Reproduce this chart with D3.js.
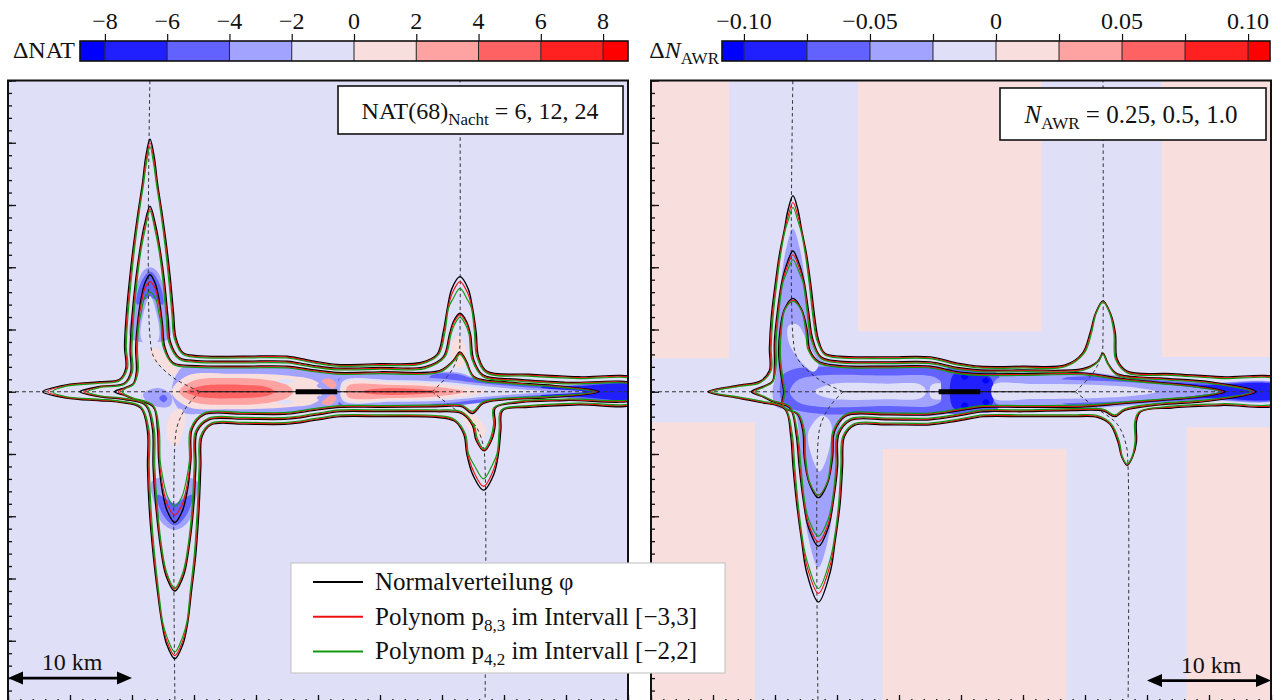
<!DOCTYPE html>
<html>
<head>
<meta charset="utf-8">
<script src="https://cdn.jsdelivr.net/npm/d3@7"></script>
<style>
  body { margin: 0; background: #fff; }
  svg { display: block; }
  text { font-family: "Liberation Serif", "DejaVu Serif", serif; fill: #111; }
</style>
</head>
<body>
<svg id="chart" width="1274" height="700"></svg>
<script>
// ---------------- data ----------------
// colour bins shared by both difference maps (dark blue ... dark red)
const binColors = ["#0000ff", "#2020ff", "#6262ff", "#a2a2ff", "#dfdff7", "#f9dede", "#ffa2a2", "#ff6262", "#ff2020", "#ff0000"];

// colourbar bin edges and tick labels
const natBounds = [-8.8, -8, -6, -4, -2, 0, 2, 4, 6, 8, 8.8];
const natTicks = [-8, -6, -4, -2, 0, 2, 4, 6, 8];
const awrBounds = [-0.1087, -0.1, -0.075, -0.05, -0.025, 0, 0.025, 0.05, 0.075, 0.1, 0.1087];
const awrTicks = [-0.10, -0.05, 0, 0.05, 0.10];

// flight routes and runway, km relative to the runway centre
const routeNorth = [[-13.55, 25.5], [-13.55, 4.4], [-13.2, 2.7], [-11.7, 1.15], [-9.5, 0]];
const routeSouth = [[-9.5, 0], [-10.6, -1.2], [-11.3, -2.6], [-11.53, -4.0], [-11.53, -25.5]];
const routeNE = [[9.2, 0], [10.4, 1.2], [10.95, 2.0], [11.4, 3.3], [11.45, 4.5], [11.45, 25.5]];
const routeSE = [[9.2, 0], [10.9, -1.3], [12.6, -2.6], [13.3, -4.2], [13.47, -6], [13.47, -25.5]];
const runwayEnds = [-1.8, 1.55];
const runwayTrack = [-9.5, 9.2];

// contour points [x, y] in km; an entry [black, red, green] gives the three methods separately
// NAT(68) night: 6 (outer), 12, 24 (inner)
const natOuter = [
  [[-22.2, -21.8, -21.4], 0], [-20.3, [0.55, 0.5, 0.45]], [-17.6, [0.8, 0.74, 0.68]], [-16.0, [1.0, 0.94, 0.88]],
  [[-15.5, -15.43, -15.36], 1.9], [[-15.6, -15.53, -15.46], 3.6], [[-15.45, -15.38, -15.31], 6.3], [[-15.2, -15.13, -15.06], 9.0],
  [[-14.9, -14.84, -14.78], 11.6], [[-14.5, -14.45, -14.4], 14.5], [[-14.15, -14.1, -14.05], 16.8], [[-13.9, -13.88, -13.86], [18.8, 18.5, 18.2]],
  [-13.55, [20.3, 20.0, 19.7]],
  [[-13.2, -13.22, -13.24], [18.8, 18.5, 18.2]], [[-12.95, -13.0, -13.05], 16.8], [[-12.6, -12.65, -12.7], 14.5], [[-12.2, -12.26, -12.32], 11.6],
  [[-11.9, -11.97, -12.04], 9.0], [[-11.65, -11.72, -11.79], 6.3], [[-11.45, -11.52, -11.59], 4.3], [-10.9, [3.15, 3.08, 3.01]],
  [-9.8, [2.9, 2.83, 2.76]], [-6, [2.85, 2.78, 2.71]], [-2.5, [2.85, 2.78, 2.71]], [-0.3, [2.45, 2.38, 2.31]], [1.5, [2.2, 2.13, 2.06]],
  [5, [2.25, 2.18, 2.11]], [8.3, [2.35, 2.28, 2.21]], [[9.6, 9.67, 9.74], 3.0], [[10.1, 10.17, 10.24], 4.8], [[10.45, 10.5, 10.55], 6.8],
  [[10.8, 10.84, 10.88], [8.3, 7.95, 7.45]], [11.45, [9.25, 8.85, 8.3]], [[12.1, 12.06, 12.02], [8.3, 7.95, 7.45]], [[12.45, 12.4, 12.35], 6.8],
  [[12.75, 12.68, 12.61], 4.8], [[12.95, 12.88, 12.81], 2.8], [13.6, [1.65, 1.58, 1.51]], [17, [1.4, 1.33, 1.26]], [21, [1.2, 1.13, 1.06]],
  [25.6, [1.0, 0.93, 0.86]], [25.6, [-0.9, -0.83, -0.76]], [21, [-1.05, -0.98, -0.91]], [17, [-1.25, -1.18, -1.11]],
  [[14.9, 14.83, 14.76], -1.5], [[14.75, 14.68, 14.61], -3.0], [[14.55, 14.49, 14.43], -5.0], [[14.15, 14.1, 14.05], [-6.7, -6.4, -5.9]],
  [13.35, [-7.9, -7.6, -7.0]], [[12.5, 12.55, 12.6], [-6.7, -6.4, -5.9]], [[12.0, 12.07, 12.14], -5.0], [[11.75, 11.82, 11.89], -3.4],
  [11.0, [-2.35, -2.28, -2.21]], [9.5, [-2.05, -1.98, -1.91]], [5, [-2.0, -1.93, -1.86]], [1.8, [-2.0, -1.93, -1.86]],
  [-0.3, [-2.3, -2.23, -2.16]], [-2.5, [-2.6, -2.53, -2.46]], [-6, [-2.6, -2.53, -2.46]], [-8.6, [-2.65, -2.58, -2.51]],
  [[-9.35, -9.42, -9.49], -3.6], [[-9.45, -9.52, -9.59], -6], [[-9.6, -9.67, -9.74], -9.5], [[-9.85, -9.91, -9.97], -13],
  [[-10.2, -10.25, -10.3], -16], [[-10.5, -10.54, -10.58], -18.5], [[-10.9, -10.92, -10.94], [-20.3, -20.05, -19.75]],
  [-11.55, [-21.45, -21.2, -20.9]],
  [[-12.2, -12.18, -12.16], [-20.3, -20.05, -19.75]], [[-12.6, -12.56, -12.52], -18.5], [[-12.95, -12.9, -12.85], -16],
  [[-13.3, -13.24, -13.18], -13], [[-13.6, -13.53, -13.46], -9.5], [[-13.75, -13.68, -13.61], -6], [[-13.75, -13.68, -13.61], -3.2],
  [-14.3, [-1.3, -1.24, -1.18]], [-16.0, [-0.85, -0.8, -0.75]], [-17.6, [-0.72, -0.66, -0.6]], [-20.3, [-0.5, -0.45, -0.4]]
];
const natMiddle = [
  [[-19.2, -18.9, -18.6], 0], [-17.6, [0.42, 0.38, 0.34]], [-15.6, [0.7, 0.65, 0.6]], [[-15.1, -15.03, -14.96], 1.6],
  [[-15.15, -15.08, -15.01], 3.3], [[-15.0, -14.93, -14.86], 6], [[-14.7, -14.64, -14.58], 9], [[-14.35, -14.3, -14.25], 11.5],
  [[-14.0, -13.97, -13.94], [13.4, 13.2, 13.05]], [-13.55, [14.9, 14.7, 14.55]], [[-13.1, -13.13, -13.16], [13.4, 13.2, 13.05]],
  [[-12.75, -12.8, -12.85], 11.5], [[-12.4, -12.46, -12.52], 9], [[-12.1, -12.17, -12.24], 6], [[-11.9, -11.97, -12.04], 4.0],
  [-11.2, [2.75, 2.68, 2.61]], [-9.8, [2.5, 2.43, 2.36]], [-6, [2.45, 2.38, 2.31]], [-2.5, [2.45, 2.38, 2.31]], [-0.3, [2.1, 2.03, 1.96]],
  [1.5, [1.9, 1.83, 1.76]], [5, [1.95, 1.88, 1.81]], [8.6, [2.0, 1.93, 1.86]], [[10.1, 10.17, 10.24], 2.8], [[10.6, 10.66, 10.72], 4.6],
  [[10.95, 10.98, 11.01], [5.7, 5.6, 5.4]], [11.45, [6.3, 6.2, 6.0]], [[11.95, 11.92, 11.89], [5.7, 5.6, 5.4]], [[12.3, 12.24, 12.18], 4.6],
  [[12.55, 12.48, 12.41], 2.6], [13.3, [1.35, 1.28, 1.21]], [16, [1.0, 0.93, 0.86]], [20, [0.75, 0.69, 0.63]], [25.6, [0.55, 0.5, 0.45]],
  [25.6, [-0.55, -0.5, -0.45]], [20, [-0.7, -0.64, -0.58]], [16, [-0.9, -0.84, -0.78]], [[14.3, 14.23, 14.16], -1.3],
  [[14.3, 14.23, 14.16], -2.6], [[14.0, 13.95, 13.9], [-3.9, -3.85, -3.75]], [13.4, [-4.75, -4.7, -4.6]], [[12.75, 12.8, 12.85], [-3.9, -3.85, -3.75]],
  [[12.45, 12.52, 12.59], -2.7], [11.6, [-1.75, -1.68, -1.61]], [9.5, [-1.6, -1.53, -1.46]], [5, [-1.6, -1.53, -1.46]],
  [1.8, [-1.6, -1.53, -1.46]], [-0.3, [-1.9, -1.83, -1.76]], [-2.5, [-2.2, -2.13, -2.06]], [-6, [-2.2, -2.13, -2.06]],
  [-8.8, [-2.25, -2.18, -2.11]], [[-9.75, -9.82, -9.89], -3.2], [[-9.85, -9.92, -9.99], -6], [[-10.05, -10.11, -10.17], -9.5],
  [[-10.4, -10.45, -10.5], -12.5], [[-10.85, -10.88, -10.91], [-14.8, -14.65, -14.55]], [-11.55, [-16.0, -15.85, -15.75]],
  [[-12.25, -12.22, -12.19], [-14.8, -14.65, -14.55]], [[-12.7, -12.65, -12.6], -12.5], [[-13.05, -12.99, -12.93], -9.5],
  [[-13.3, -13.23, -13.16], -6], [[-13.35, -13.28, -13.21], -3.0], [-13.9, [-1.1, -1.04, -0.98]], [-15.6, [-0.62, -0.57, -0.52]],
  [-17.6, [-0.4, -0.36, -0.32]]
];
const natInner = [
  [[-16.4, -16.1, -15.8], 0], [-15.5, [0.35, 0.31, 0.27]], [-14.9, [0.65, 0.6, 0.55]], [[-14.65, -14.58, -14.51], 1.6],
  [[-14.7, -14.63, -14.56], 3.5], [[-14.55, -14.49, -14.43], 5.5], [[-14.3, -14.27, -14.25], [7.3, 7.0, 6.4]],
  [[-13.95, -13.97, -14.0], [8.75, 8.3, 7.5]], [-13.55, [9.4, 8.85, 8.0]], [[-13.15, -13.13, -13.1], [8.75, 8.3, 7.5]],
  [[-12.8, -12.83, -12.85], [7.3, 7.0, 6.4]], [[-12.55, -12.61, -12.67], 5.5], [[-12.35, -12.42, -12.49], 3.6],
  [-11.7, [2.35, 2.28, 2.21]], [-9.8, [2.1, 2.03, 1.96]], [-6, [2.05, 1.98, 1.91]], [-2.5, [2.05, 1.98, 1.91]],
  [-0.3, [1.75, 1.68, 1.61]], [1.5, [1.55, 1.48, 1.41]], [5, [1.6, 1.53, 1.46]], [9.8, [1.7, 1.63, 1.56]],
  [[10.9, 10.95, 11.0], 2.5], [11.45, [3.2, 3.1, 3.0]], [[11.95, 11.9, 11.85], 2.5], [12.6, [1.2, 1.13, 1.06]],
  [15, [0.8, 0.74, 0.68]], [19, [0.5, 0.45, 0.4]], [[22.7, 22.5, 22.3], 0], [19, [-0.45, -0.4, -0.35]], [15, [-0.65, -0.59, -0.53]],
  [13.3, [-0.95, -0.88, -0.81]], [12.45, [-1.75, -1.65, -1.55]], [11.6, [-1.2, -1.13, -1.06]], [9.5, [-1.2, -1.13, -1.06]],
  [5, [-1.25, -1.18, -1.11]], [1.8, [-1.25, -1.18, -1.11]], [-0.3, [-1.5, -1.43, -1.36]], [-2.5, [-1.8, -1.73, -1.66]],
  [-6, [-1.8, -1.73, -1.66]], [-9.2, [-1.85, -1.78, -1.71]], [[-10.15, -10.22, -10.29], -3.0], [[-10.25, -10.31, -10.37], -5.5],
  [[-10.55, -10.58, -10.6], [-8.0, -7.6, -7.0]], [[-10.95, -10.97, -11.0], [-9.6, -9.1, -8.5]], [-11.55, [-10.5, -9.9, -9.2]],
  [[-12.15, -12.13, -12.1], [-9.6, -9.1, -8.5]], [[-12.55, -12.52, -12.5], [-8.0, -7.6, -7.0]], [[-12.85, -12.79, -12.73], -5.5],
  [[-12.95, -12.88, -12.81], -3.0], [-13.3, [-1.2, -1.14, -1.08]], [-14.9, [-0.6, -0.55, -0.5]], [-15.5, [-0.33, -0.29, -0.25]]
];

// N_AWR: 0.25 (outer), 0.5, 1.0 (inner)
const awrOuter = [
  [[-20.4, -20.25, -20.1], 0], [-17.8, [0.54, 0.49, 0.44]], [-16.2, [0.85, 0.79, 0.73]], [[-15.45, -15.38, -15.31], 1.7],
  [[-15.45, -15.38, -15.31], 3.5], [[-15.3, -15.23, -15.16], 6], [[-15.0, -14.94, -14.88], 8.5], [[-14.65, -14.6, -14.55], 11],
  [[-14.25, -14.21, -14.17], 13], [[-13.95, -13.95, -13.95], [14.6, 14.1, 13.7]], [-13.55, [15.75, 15.2, 14.8]],
  [[-13.15, -13.15, -13.15], [14.6, 14.1, 13.7]], [[-12.85, -12.89, -12.93], 13], [[-12.45, -12.5, -12.55], 11],
  [[-12.1, -12.16, -12.22], 8.5], [[-11.8, -11.87, -11.94], 6], [[-11.5, -11.57, -11.64], 4.2], [-11.0, [3.1, 3.03, 2.96]],
  [-9.8, [2.85, 2.78, 2.71]], [-6, [2.8, 2.73, 2.66]], [-2.5, [2.8, 2.73, 2.66]], [-0.3, [2.3, 2.23, 2.16]], [1.5, [2.05, 1.98, 1.91]],
  [5, [2.05, 1.98, 1.91]], [8.4, [2.15, 2.08, 2.01]], [[9.8, 9.87, 9.94], 3.1], [[10.4, 10.46, 10.52], 4.7],
  [[10.85, 10.88, 10.91], 6.3], [11.45, [7.3, 7.25, 7.2]], [[12.05, 12.02, 11.99], 6.3], [[12.45, 12.39, 12.33], 4.7],
  [[12.6, 12.53, 12.46], 2.6], [13.4, [1.65, 1.58, 1.51]], [17, [1.45, 1.38, 1.31]], [21, [1.2, 1.13, 1.06]], [25.6, [1.0, 0.93, 0.86]],
  [25.6, [-0.95, -0.88, -0.81]], [21, [-1.1, -1.03, -0.96]], [17, [-1.3, -1.23, -1.16]], [[14.5, 14.43, 14.36], -1.6],
  [[14.15, 14.08, 14.01], -2.4], [[14.15, 14.09, 14.03], -4.0], [[13.85, 13.82, 13.79], -5.2], [13.4, [-5.9, -5.85, -5.8]],
  [[12.95, 12.98, 13.01], -5.2], [[12.65, 12.71, 12.77], -4.0], [[12.0, 12.07, 12.14], -2.6], [11.0, [-2.05, -1.98, -1.91]],
  [9, [-2.0, -1.93, -1.86]], [5, [-2.0, -1.93, -1.86]], [1.8, [-2.0, -1.93, -1.86]], [-0.3, [-2.35, -2.28, -2.21]],
  [-2.5, [-2.65, -2.58, -2.51]], [-6, [-2.65, -2.58, -2.51]], [-8.6, [-2.7, -2.63, -2.56]], [[-9.4, -9.47, -9.54], -3.6],
  [[-9.55, -9.62, -9.69], -6], [[-9.75, -9.81, -9.87], -9], [[-10.15, -10.2, -10.25], -12],
  [[-10.55, -10.57, -10.59], [-14.5, -14.0, -13.6]], [-11.5, [-16.9, -16.2, -15.8]], [[-12.45, -12.43, -12.41], [-14.5, -14.0, -13.6]],
  [[-12.85, -12.8, -12.75], -12], [[-13.25, -13.19, -13.13], -9], [[-13.55, -13.48, -13.41], -6], [[-13.75, -13.68, -13.61], -3.4],
  [-14.2, [-1.4, -1.34, -1.28]], [-16.2, [-0.85, -0.79, -0.73]], [-17.8, [-0.54, -0.49, -0.44]]
];
const awrMiddle = [
  [[-16.9, -16.75, -16.6], 0], [-15.9, [0.45, 0.41, 0.37]], [-15.2, [0.85, 0.8, 0.75]], [[-15.05, -14.98, -14.91], 2.0],
  [[-15.05, -14.98, -14.91], 4.0], [[-14.8, -14.74, -14.68], 6.5], [[-14.45, -14.4, -14.35], 8.8], [[-14.0, -14.0, -14.0], [10.4, 10.1, 9.7]],
  [-13.55, [11.3, 11.0, 10.6]], [[-13.1, -13.1, -13.1], [10.4, 10.1, 9.7]], [[-12.65, -12.7, -12.75], 8.8], [[-12.3, -12.36, -12.42], 6.5],
  [[-11.95, -12.02, -12.09], 4.2], [-11.3, [2.8, 2.73, 2.66]], [-9.8, [2.45, 2.38, 2.31]], [-6, [2.4, 2.33, 2.26]],
  [-2.5, [2.4, 2.33, 2.26]], [-0.3, [1.95, 1.88, 1.81]], [1.5, [1.75, 1.68, 1.61]], [5, [1.75, 1.68, 1.61]], [9.8, [1.85, 1.78, 1.71]],
  [[11.0, 11.03, 11.06], 2.4], [11.45, [3.1, 3.05, 3.0]], [[11.85, 11.82, 11.79], 2.3], [12.6, [1.45, 1.38, 1.31]],
  [16, [1.1, 1.04, 0.98]], [20, [0.8, 0.74, 0.68]], [[23.8, 23.6, 23.4], 0], [20, [-0.75, -0.69, -0.63]], [16, [-1.05, -0.99, -0.93]],
  [13.2, [-1.5, -1.43, -1.36]], [12.4, [-2.0, -1.93, -1.86]], [11.5, [-1.55, -1.48, -1.41]], [9, [-1.5, -1.43, -1.36]],
  [5, [-1.6, -1.53, -1.46]], [1.8, [-1.6, -1.53, -1.46]], [-0.3, [-1.95, -1.88, -1.81]], [-2.5, [-2.25, -2.18, -2.11]],
  [-6, [-2.25, -2.18, -2.11]], [-8.9, [-2.3, -2.23, -2.16]], [[-9.85, -9.92, -9.99], -3.4], [[-9.95, -10.02, -10.09], -6],
  [[-10.25, -10.3, -10.35], -8.5], [[-10.7, -10.7, -10.7], [-10.9, -10.6, -10.2]], [-11.5, [-12.4, -12.05, -11.6]],
  [[-12.3, -12.3, -12.3], [-10.9, -10.6, -10.2]], [[-12.75, -12.7, -12.65], -8.5], [[-13.05, -12.98, -12.91], -6],
  [[-13.3, -13.23, -13.16], -3.4], [-13.8, [-1.3, -1.24, -1.18]], [-15.2, [-0.8, -0.75, -0.7]], [-15.9, [-0.45, -0.41, -0.37]]
];
const awrInner = [
  [[-14.3, -14.25, -14.2], 0], [[-14.5, -14.44, -14.38], 1.2], [[-14.7, -14.63, -14.56], 3.0], [[-14.6, -14.54, -14.48], 4.9],
  [[-14.25, -14.22, -14.19], 6.6], [-13.55, [7.5, 7.35, 7.25]], [[-12.85, -12.88, -12.91], 6.6], [[-12.4, -12.46, -12.52], 4.9],
  [[-12.2, -12.27, -12.34], 3.4], [-11.5, [2.45, 2.38, 2.31]], [-9.8, [2.1, 2.03, 1.96]], [-6, [2.05, 1.98, 1.91]],
  [-2.5, [2.05, 1.98, 1.91]], [-0.3, [1.6, 1.53, 1.46]], [1.5, [1.45, 1.38, 1.31]], [5, [1.45, 1.38, 1.31]], [10, [1.5, 1.43, 1.36]],
  [13, [1.05, 0.99, 0.93]], [16, [0.75, 0.7, 0.65]], [19, [0.45, 0.41, 0.37]], [[21.3, 21.1, 20.9], 0], [19, [-0.45, -0.41, -0.37]],
  [16, [-0.7, -0.65, -0.6]], [13, [-0.95, -0.89, -0.83]], [10, [-1.2, -1.13, -1.06]], [5, [-1.25, -1.18, -1.11]],
  [1.8, [-1.25, -1.18, -1.11]], [-0.3, [-1.55, -1.48, -1.41]], [-2.5, [-1.85, -1.78, -1.71]], [-6, [-1.85, -1.78, -1.71]],
  [-9.3, [-1.95, -1.88, -1.81]], [[-10.2, -10.27, -10.34], -3.2], [[-10.35, -10.41, -10.47], -5.2], [[-10.75, -10.78, -10.81], -7.3],
  [-11.5, [-8.5, -8.3, -8.3]], [[-12.25, -12.22, -12.19], -7.3], [[-12.65, -12.59, -12.53], -5.2], [[-12.75, -12.68, -12.61], -3.2],
  [[-13.2, -13.14, -13.08], -1.8], [[-14.4, -14.34, -14.28], -1.2]
];

// difference fields: [colour bin, outline in km]
const natFills = [
  [3, [[-11.8, 0], [-11.0, 1.9], [-9.8, 2.02], [-6, 1.98], [-2.5, 1.98], [-0.3, 1.65], [1.5, 1.46], [5, 1.52], [9.8, 1.62], [11.5, 1.5], [12.6, 1.1], [15, 0.72], [19, 0.45], [25.6, 0.55], [25.6, -0.55], [19, -0.42], [15, -0.6], [13, -0.9], [9.5, -1.15], [5, -1.2], [1.8, -1.2], [-0.3, -1.45], [-2.5, -1.75], [-6, -1.75], [-9.2, -1.8], [-11.0, -1.6]]],
  [5, [[-11.8, 0], [-10.5, 1.3], [-7, 1.45], [-4, 1.4], [-2, 1.25], [-0.5, 1.0], [0.2, 0.5], [0.2, -0.5], [-0.5, -1.0], [-2, -1.2], [-4, -1.35], [-7, -1.4], [-10.5, -1.2]]],
  [6, [[-11.2, 0], [-10, 0.9], [-7, 1.1], [-4.5, 1.0], [-2.5, 0.55], [-2.0, 0], [-2.5, -0.5], [-4.5, -0.95], [-7, -1.05], [-10, -0.85]]],
  [7, [[-10.6, 0], [-9.5, 0.45], [-6, 0.55], [-4.2, 0.4], [-3.5, 0], [-4.2, -0.35], [-6, -0.5], [-9.5, -0.42]]],
  [4, [[-3.3, 0.85], [-2.6, 1.05], [-1.9, 0.85], [-2.6, 0.65]]],
  [4, [[-3.3, -0.85], [-2.6, -0.65], [-1.9, -0.85], [-2.6, -1.05]]],
  [6, [[0.3, 0.9], [1.0, 1.05], [1.5, 0.55], [1.2, 0.25], [0.7, 0.5]]],
  [6, [[0.3, -0.9], [0.7, -0.5], [1.2, -0.25], [1.5, -0.55], [1.0, -1.05]]],
  [3, [[-0.1, 0.5], [0.2, 0.7], [0.4, 0.45], [0.1, 0.3]]],
  [3, [[-0.1, -0.5], [0.1, -0.3], [0.4, -0.45], [0.2, -0.7]]],
  [2, [[1.6, 0.95], [1.9, 1.15], [2.15, 0.95], [1.9, 0.75]]],
  [2, [[1.6, -0.95], [1.9, -0.75], [2.15, -0.95], [1.9, -1.15]]],
  [2, [[9, 1.2], [11, 1.45], [12.6, 1.05], [15, 0.7], [19, 0.45], [25.6, 0.55], [25.6, -0.55], [19, -0.42], [15, -0.58], [13, -0.88], [11, -1.05], [9, -0.9]]],
  [1, [[18, 0.35], [21, 0.45], [25.6, 0.5], [25.6, -0.5], [21, -0.4], [18, -0.3]]],
  [3, [[1.8, 1.1], [6, 1.2], [10, 1.05], [13, 0.7], [17, 0.35], [21.5, 0], [17, -0.32], [13, -0.62], [10, -0.95], [6, -1.0], [1.8, -0.9]]],
  [4, [[2, 0.85], [6, 0.95], [10, 0.8], [13, 0.5], [16, 0.22], [18.5, 0], [16, -0.2], [13, -0.45], [10, -0.72], [6, -0.8], [2, -0.7]]],
  [5, [[2.1, 0.7], [6, 0.78], [10, 0.6], [12.5, 0.3], [13.5, 0], [12.5, -0.28], [10, -0.55], [6, -0.68], [2.1, -0.6]]],
  [6, [[2.4, 0.45], [6, 0.55], [9.5, 0.4], [11.8, 0], [9.5, -0.38], [6, -0.5], [2.4, -0.4]]],
  [7, [[3.5, 0], [4.5, 0.22], [7.5, 0.25], [10, 0], [7.5, -0.22], [4.5, -0.2]]],
  [3, [[-14.1, -0.2], [-12.9, 0.3], [-11.8, -0.3], [-11.9, -1.1], [-12.7, -1.25], [-13.8, -0.8]]],
  [2, [[-12.8, -0.5], [-12.45, -0.25], [-12.15, -0.55], [-12.45, -0.85]]],
  [5, [[-13.5, 3.4], [-13.0, 3.5], [-12.2, 2.7], [-11.3, 1.6], [-11.7, 1.3], [-12.6, 2.0], [-13.4, 2.8]]],
  [5, [[-11.0, -1.4], [-10.7, -2.0], [-11.0, -3.6], [-11.5, -4.4], [-12.1, -3.8], [-12.1, -2.3], [-11.6, -1.5]]],
  [5, [[11.3, 4.5], [11.9, 3.6], [11.9, 2.3], [11.3, 1.9], [10.8, 2.6], [10.8, 3.8]]],
  [5, [[11.6, -1.6], [12.5, -1.8], [13.5, -2.9], [13.3, -3.7], [12.6, -3.4], [11.8, -2.4]]],
  [3, [[-15.1, 4.3], [-15.0, 6.5], [-14.6, 8.6], [-14.1, 9.7], [-13.55, 10.0], [-13.0, 9.7], [-12.5, 8.6], [-12.1, 6.5], [-12.0, 4.3], [-13.55, 4.0]]],
  [2, [[-14.6, 7.0], [-14.35, 8.6], [-13.55, 9.65], [-12.75, 8.6], [-12.5, 7.0], [-13.55, 7.6]]],
  [4, [[-14.25, 4.2], [-14.1, 6.2], [-13.55, 7.7], [-13.0, 6.2], [-12.85, 4.2], [-13.55, 3.6]]],
  [3, [[-13.4, -7.2], [-13.2, -9.0], [-12.6, -10.5], [-11.55, -11.1], [-10.5, -10.5], [-9.95, -9.0], [-9.75, -7.2], [-11.55, -6.8]]],
  [2, [[-12.95, -8.3], [-12.5, -9.9], [-11.55, -10.75], [-10.6, -9.9], [-10.15, -8.3], [-11.55, -8.9]]],
  [4, [[-12.6, -6.5], [-12.4, -8.1], [-11.55, -9.0], [-10.7, -8.1], [-10.5, -6.5], [-11.55, -6.0]]]
];
const awrPink = [[-25.5, 2.7, -18.7, 25.5], [-8.3, 4.85, 6.5, 25.5], [16.2, 2.8, 25.5, 25.5],
                 [-25.5, -25.5, -16.6, -2.45], [-6.3, -25.5, 8.5, -4.6], [18.2, -25.5, 25.5, -2.85]];
const awrFills = [
  [3, [[-15.2, 0], [-14.9, 1.5], [-14.95, 3.5], [-14.85, 6], [-14.5, 9], [-14.1, 11.5], [-13.55, 13.1], [-13.0, 11.5], [-12.6, 9], [-12.25, 6], [-12.0, 3.8], [-11.3, 2.6], [-9.8, 2.2], [-2.5, 2.15], [-0.3, 1.75], [1.5, 1.55], [9.8, 1.6], [13, 1.25], [16, 1.0], [20, 0.75], [25.6, 0.6], [25.6, -0.6], [20, -0.7], [16, -0.9], [13, -1.15], [9.8, -1.35], [1.8, -1.35], [-0.3, -1.65], [-2.5, -1.95], [-9.3, -2.05], [-9.95, -3.5], [-10.05, -6], [-10.3, -9], [-10.75, -12], [-11.5, -14.1], [-12.25, -12], [-12.7, -9], [-12.95, -6], [-13.05, -3.5], [-13.5, -1.6], [-14.9, -1.2]]],
  [2, [[-14.6, 0], [-14.4, 1.3], [-13.5, 1.8], [-11.5, 2.0], [-6, 2.0], [-2.5, 2.0], [-1.2, 1.7], [-1.2, -1.5], [-2.5, -1.75], [-6, -1.75], [-11, -1.8], [-13.2, -1.5], [-14.3, -1.1]]],
  [3, [[-13.8, 0], [-13.2, 0.9], [-11.5, 1.3], [-6, 1.3], [-2.2, 1.2], [-1.5, 0.6], [-1.5, -0.6], [-2.2, -1.1], [-6, -1.15], [-11.5, -1.2], [-13.2, -0.8]]],
  [4, [[-11.8, 0], [-10.5, 0.6], [-6, 0.65], [-3.2, 0.55], [-2.8, 0], [-3.2, -0.5], [-6, -0.6], [-10.5, -0.55]]],
  [4, [[-2.4, 0.55], [-1.3, 0.55], [-1.3, -0.5], [-2.4, -0.5]]],
  [2, [[-1.3, 1.8], [1.0, 1.8], [2.9, 1.5], [3.2, 0], [2.9, -1.45], [1.0, -1.7], [-1.3, -1.6], [-1.6, 0]]],
  [1, [[-0.6, 1.4], [1.2, 1.45], [2.4, 1.1], [2.5, -1.05], [1.2, -1.35], [-0.6, -1.3]]],
  [0, [[0.0, 1.2], [0.3, 1.45], [0.6, 1.2], [0.3, 0.95]]],
  [0, [[0.0, -1.1], [0.3, -0.85], [0.6, -1.1], [0.3, -1.35]]],
  [0, [[1.7, 0.9], [2.0, 1.15], [2.3, 0.9], [2.0, 0.65]]],
  [0, [[1.7, -0.85], [2.0, -0.6], [2.3, -0.85], [2.0, -1.1]]],
  [2, [[8, 0.9], [10, 1.25], [13, 1.1], [16, 0.9], [20, 0.68], [25.6, 0.55], [25.6, -0.55], [20, -0.62], [16, -0.82], [13, -1.0], [10, -1.1], [8, -0.8]]],
  [1, [[16, 0.5], [20, 0.55], [25.6, 0.45], [25.6, -0.45], [20, -0.5], [16, -0.45]]],
  [3, [[2.8, 0.95], [9, 0.95], [14, 0.75], [18, 0.45], [20.8, 0], [18, -0.42], [14, -0.7], [9, -0.9], [2.8, -0.9]]],
  [4, [[2.6, 0.55], [6, 0.62], [11, 0.55], [14, 0.35], [15.8, 0], [14, -0.32], [11, -0.5], [6, -0.58], [2.6, -0.5]]],
  [4, [[-13.9, 5.3], [-13.2, 5.4], [-12.3, 3.8], [-11.5, 2.1], [-11.9, 1.6], [-12.9, 2.4], [-13.9, 4.0]]],
  [4, [[-11.2, -1.9], [-10.5, -2.5], [-10.6, -4.5], [-11.4, -6.4], [-12.1, -5.0], [-12.3, -3.2]]]
];

// ---------------- layout ----------------
const svg = d3.select("#chart");
const panelTop = 80.5, panelBottom = 703, panelWidth = 620;
const methodStyles = [
  { color: "#000000", width: 1.4 },
  { color: "#ee1111", width: 1.15 },
  { color: "#119a11", width: 1.15 }
];
const pick = (v, i) => Array.isArray(v) ? v[i] : v;

function drawPanel(id, x0, fills, pink, contours) {
  const x = d3.scaleLinear().domain([-25, 25]).range([x0, x0 + panelWidth]);
  const y = d3.scaleLinear().domain([-25, 25]).range([panelBottom, panelTop]);

  svg.append("clipPath").attr("id", "clip-" + id)
    .append("rect").attr("x", x0).attr("y", panelTop)
    .attr("width", panelWidth).attr("height", panelBottom - panelTop);
  const g = svg.append("g").attr("clip-path", `url(#clip-${id})`);

  g.append("rect").attr("x", x0).attr("y", panelTop)
    .attr("width", panelWidth).attr("height", panelBottom - panelTop)
    .attr("fill", binColors[4]);

  g.selectAll("rect.pink").data(pink).join("rect").attr("class", "pink")
    .attr("x", d => x(d[0])).attr("y", d => y(d[3]))
    .attr("width", d => x(d[2]) - x(d[0])).attr("height", d => y(d[1]) - y(d[3]))
    .attr("fill", binColors[5]);

  const blob = d3.line().x(p => x(p[0])).y(p => y(p[1])).curve(d3.curveCatmullRomClosed.alpha(0.5));
  g.selectAll("path.fill").data(fills).join("path").attr("class", "fill")
    .attr("d", d => blob(d[1])).attr("fill", d => binColors[d[0]]);

  // routes
  const route = d3.line().x(p => x(p[0])).y(p => y(p[1])).curve(d3.curveCatmullRom.alpha(0.5));
  g.selectAll("path.route").data([routeNorth, routeSouth, routeNE, routeSE]).join("path").attr("class", "route")
    .attr("d", route).attr("fill", "none").attr("stroke", "#333").attr("stroke-width", 1)
    .attr("stroke-dasharray", "3.5,3");
  g.append("line").attr("x1", x(-25)).attr("x2", x(25)).attr("y1", y(0)).attr("y2", y(0))
    .attr("stroke", "#333").attr("stroke-width", 1).attr("stroke-dasharray", "4,3");
  g.append("line").attr("x1", x(runwayTrack[0])).attr("x2", x(runwayTrack[1])).attr("y1", y(0)).attr("y2", y(0))
    .attr("stroke", "#111").attr("stroke-width", 1);

  // contour lines for the three methods
  methodStyles.forEach((m, i) => {
    const line = d3.line().x(p => x(pick(p[0], i))).y(p => y(pick(p[1], i)))
      .curve(d3.curveCatmullRomClosed.alpha(0.5));
    g.selectAll(`path.c${i}`).data(contours).join("path").attr("class", `c${i}`)
      .attr("d", line).attr("fill", "none").attr("stroke", m.color)
      .attr("stroke-width", m.width).attr("stroke-linejoin", "round");
  });

  // runway
  g.append("line").attr("x1", x(runwayEnds[0])).attr("x2", x(runwayEnds[1])).attr("y1", y(0)).attr("y2", y(0))
    .attr("stroke", "#000").attr("stroke-width", 5);

  // inward ticks, 1 km minor / 5 km major
  const tickGroups = [[d3.range(-25, 26, 1), 4], [d3.range(-25, 26, 5), 8]];
  tickGroups.forEach(([vals, len]) => {
    svg.append("g").attr("transform", `translate(${x0},0)`)
      .call(d3.axisRight(y).tickValues(vals).tickSize(len).tickFormat(""))
      .call(a => a.select(".domain").remove())
      .selectAll("line").attr("stroke", "#111").attr("stroke-width", 1.3);
    svg.append("g").attr("transform", `translate(0,${panelBottom})`)
      .call(d3.axisTop(x).tickValues(vals).tickSize(len).tickFormat(""))
      .call(a => a.select(".domain").remove())
      .selectAll("line").attr("stroke", "#111").attr("stroke-width", 1.3);
  });

  svg.append("rect").attr("x", x0).attr("y", panelTop)
    .attr("width", panelWidth).attr("height", panelBottom - panelTop)
    .attr("fill", "none").attr("stroke", "#111").attr("stroke-width", 2);

  return { x, y };
}

function scaleBar(sc, from, to, level) {
  const xa = sc.x(from), xb = sc.x(to), yy = sc.y(level);
  const g = svg.append("g");
  g.append("line").attr("x1", xa + 10).attr("x2", xb - 10).attr("y1", yy).attr("y2", yy)
    .attr("stroke", "#000").attr("stroke-width", 2.6);
  g.append("path").attr("d", `M${xa},${yy}L${xa + 15},${yy - 6.5}L${xa + 15},${yy + 6.5}Z`).attr("fill", "#000");
  g.append("path").attr("d", `M${xb},${yy}L${xb - 15},${yy - 6.5}L${xb - 15},${yy + 6.5}Z`).attr("fill", "#000");
  g.append("text").attr("x", (xa + xb) / 2 + 2).attr("y", yy - 8).attr("text-anchor", "middle")
    .attr("font-size", 24).text("10 km");
}

function colorbar(x0, x1, bounds, ticks, fmt) {
  const cx = d3.scaleLinear().domain([bounds[0], bounds[bounds.length - 1]]).range([x0, x1]);
  const top = 41, h = 20;
  const g = svg.append("g");
  g.selectAll("rect.bin").data(d3.range(bounds.length - 1)).join("rect").attr("class", "bin")
    .attr("x", i => cx(bounds[i])).attr("width", i => cx(bounds[i + 1]) - cx(bounds[i]))
    .attr("y", top).attr("height", h).attr("fill", i => binColors[i]);
  g.selectAll("line.edge").data(bounds.slice(1, -1)).join("line").attr("class", "edge")
    .attr("x1", cx).attr("x2", cx).attr("y1", top).attr("y2", top + h)
    .attr("stroke", "#222").attr("stroke-width", 1);
  g.append("rect").attr("x", x0).attr("y", top).attr("width", x1 - x0).attr("height", h)
    .attr("fill", "none").attr("stroke", "#111").attr("stroke-width", 1.6);
  const ax = svg.append("g").attr("transform", `translate(0,${top})`)
    .call(d3.axisTop(cx).tickValues(bounds.slice(1, -1)).tickSize(7).tickFormat(""));
  ax.select(".domain").remove();
  ax.selectAll("line").attr("stroke", "#111").attr("stroke-width", 1.2);
  svg.append("g").selectAll("text").data(ticks).join("text")
    .attr("x", cx).attr("y", 29).attr("text-anchor", "middle").attr("font-size", 24).text(fmt);
}

// ---------------- drawing ----------------
const natScale = drawPanel("nat", 8, natFills, [], [natOuter, natMiddle, natInner]);
const awrScale = drawPanel("awr", 651, awrFills, awrPink, [awrOuter, awrMiddle, awrInner]);

colorbar(80, 628, natBounds, natTicks, d3.format("d"));
colorbar(722, 1270, awrBounds, awrTicks, v => v === 0 ? "0" : d3.format(".2f")(v));

svg.append("text").attr("x", 75).attr("y", 58).attr("text-anchor", "end").attr("font-size", 24).text("ΔNAT");
const awrLabel = svg.append("text").attr("x", 719).attr("y", 58).attr("text-anchor", "end").attr("font-size", 24);
awrLabel.append("tspan").text("Δ");
awrLabel.append("tspan").attr("font-style", "italic").text("N");
awrLabel.append("tspan").attr("font-size", 17).attr("dy", 6).text("AWR");

// level annotations
svg.append("rect").attr("x", 338).attr("y", 86).attr("width", 285).attr("height", 48)
  .attr("fill", "#fff").attr("stroke", "#111").attr("stroke-width", 1.6);
const natNote = svg.append("text").attr("x", 480).attr("y", 119).attr("text-anchor", "middle").attr("font-size", 24);
natNote.append("tspan").text("NAT(68)");
natNote.append("tspan").attr("font-size", 17).attr("dy", 6).text("Nacht");
natNote.append("tspan").attr("dy", -6).text(" = 6, 12, 24");

svg.append("rect").attr("x", 1000).attr("y", 88).attr("width", 266).attr("height", 52)
  .attr("fill", "#fff").attr("stroke", "#111").attr("stroke-width", 1.6);
const awrNote = svg.append("text").attr("x", 1131).attr("y", 123).attr("text-anchor", "middle").attr("font-size", 25);
awrNote.append("tspan").attr("font-style", "italic").text("N");
awrNote.append("tspan").attr("font-size", 17).attr("dy", 6).text("AWR");
awrNote.append("tspan").attr("dy", -6).text(" = 0.25, 0.5, 1.0");

// scale bars
scaleBar(natScale, -25, -15, -23.0);
scaleBar(awrScale, 15, 25, -23.2);

// legend
const legendItems = [
  { color: methodStyles[0].color, parts: [["Normalverteilung φ", null]] },
  { color: methodStyles[1].color, parts: [["Polynom p", null], ["8,3", "sub"], [" im Intervall [−3,3]", null]] },
  { color: methodStyles[2].color, parts: [[" Polynom p", null], ["4,2", "sub"], [" im Intervall [−2,2]", null]] }
];
const lg = svg.append("g");
lg.append("rect").attr("x", 291).attr("y", 563).attr("width", 434).attr("height", 110)
  .attr("fill", "#fff").attr("stroke", "#c8c8c8").attr("stroke-width", 1.2);
legendItems.forEach((item, i) => {
  const yy = 582 + i * 34.7;
  lg.append("line").attr("x1", 313).attr("x2", 363).attr("y1", yy).attr("y2", yy)
    .attr("stroke", item.color).attr("stroke-width", 2);
  const t = lg.append("text").attr("x", 375).attr("y", yy + 8).attr("font-size", 25);
  let shifted = false;
  item.parts.forEach(([s, kind]) => {
    const sp = t.append("tspan").text(s);
    if (kind === "sub") { sp.attr("font-size", 17).attr("dy", 6); shifted = true; }
    else if (shifted) { sp.attr("dy", -6); shifted = false; }
  });
});
</script>
</body>
</html>
